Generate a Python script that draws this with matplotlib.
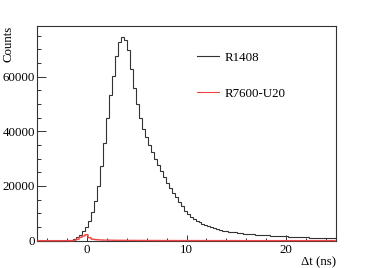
import numpy as np
import matplotlib
matplotlib.use('Agg')
import matplotlib.pyplot as plt
from matplotlib.lines import Line2D

# histogram range / binning (100 bins of 0.3 ns)
t_lo, t_hi, n_bins = -5, 25, 100

# R1408 counts per bin
r1408 = [0, 0, 0, 0, 0, 0, 0, 0, 0, 0,
         100, 200, 500, 1200, 2100, 3400, 4900, 7300, 10400, 14600,
         20100, 27400, 35600, 44800, 53300, 60300, 67600, 72800, 74300, 73500,
         69600, 62700, 56000, 49800, 44900, 40800, 37800, 35000, 32400, 30000,
         27600, 25300, 23200, 21200, 19300, 17500, 15800, 14200, 12600, 11000,
         9600, 8700, 8000, 7300, 6700, 6200, 5700, 5300, 4900, 4500,
         4200, 3950, 3700, 3500, 3300, 3150, 3000, 2850, 2700, 2600,
         2500, 2400, 2300, 2200, 2100, 2050, 2000, 1900, 1850, 1800,
         1750, 1700, 1650, 1600, 1500, 1450, 1400, 1350, 1300, 1250,
         1200, 1150, 1100, 1080, 1050, 1000, 980, 950, 920, 900]

# R7600-U20 counts per bin
r7600 = [0, 0, 0, 0, 0, 0, 0, 0, 0, 0,
         0, 0, 100, 500, 1200, 1700, 2200, 1100, 550, 400,
         300, 250, 200, 200, 180, 150, 140, 130, 120, 110,
         100, 100, 90, 90, 80, 80, 70, 70, 60, 60,
         60, 50, 50, 50, 50, 40, 40, 40, 40, 40,
         30, 30, 30, 30, 30, 30, 30, 20, 20, 20,
         20, 20, 20, 20, 20, 20, 20, 20, 10, 10,
         10, 10, 10, 10, 10, 10, 10, 10, 10, 10,
         10, 10, 10, 10, 10, 10, 10, 10, 10, 10,
         10, 10, 10, 10, 10, 10, 10, 10, 10, 10]

labels = ['R1408', 'R7600-U20']
colors = ['#333333', '#f04545']

plt.rcParams['font.family'] = ['Liberation Serif', 'DejaVu Serif']
plt.rcParams['font.size'] = 9.3
plt.rcParams['path.simplify'] = False

fig = plt.figure(figsize=(3.74, 2.68), dpi=100)
ax = fig.add_axes([0.0997, 0.102, 0.7983, 0.801])

edges = np.linspace(t_lo, t_hi, n_bins + 1)
ax.stairs(r1408, edges, color=colors[0], lw=0.8, zorder=3, clip_on=False)
ax.stairs(r7600, edges, color=colors[1], lw=1.0, zorder=4, clip_on=False,
          snap=False)

ax.set_xlim(t_lo, t_hi)
ax.set_ylim(0, 78500)

ax.set_xticks([0, 10, 20])
ax.set_xticks(np.arange(-4, 25, 2), minor=True)
ax.set_yticks([0, 20000, 40000, 60000])
ax.set_yticks(np.arange(0, 78001, 5000), minor=True)

ax.tick_params(axis='both', which='both', direction='in', top=False, right=False,
               width=0.7, color='#333333')
ax.tick_params(axis='y', which='major', length=6.3, pad=1.5)
ax.tick_params(axis='y', which='minor', length=3.1)
ax.tick_params(axis='x', which='major', length=4.3, pad=2.5)
ax.tick_params(axis='x', which='minor', length=2.2)

for s in ax.spines.values():
    s.set_color('#333333')
    s.set_linewidth(0.8)

ax.text(-0.097, 1.0, 'Counts', rotation=90, ha='center', va='top',
        transform=ax.transAxes)
ax.text(1.0, -0.099, 'Δt (ns)', ha='right', va='center', transform=ax.transAxes)

handles = [Line2D([], [], color=c, lw=0.8) for c in colors]
ax.legend(handles, labels, loc='upper left', bbox_to_anchor=(0.535, 0.88),
          frameon=False, handlelength=1.7, handletextpad=0.4,
          labelspacing=1.87, borderpad=0, borderaxespad=0)

fig.savefig('out.png', dpi=100)
